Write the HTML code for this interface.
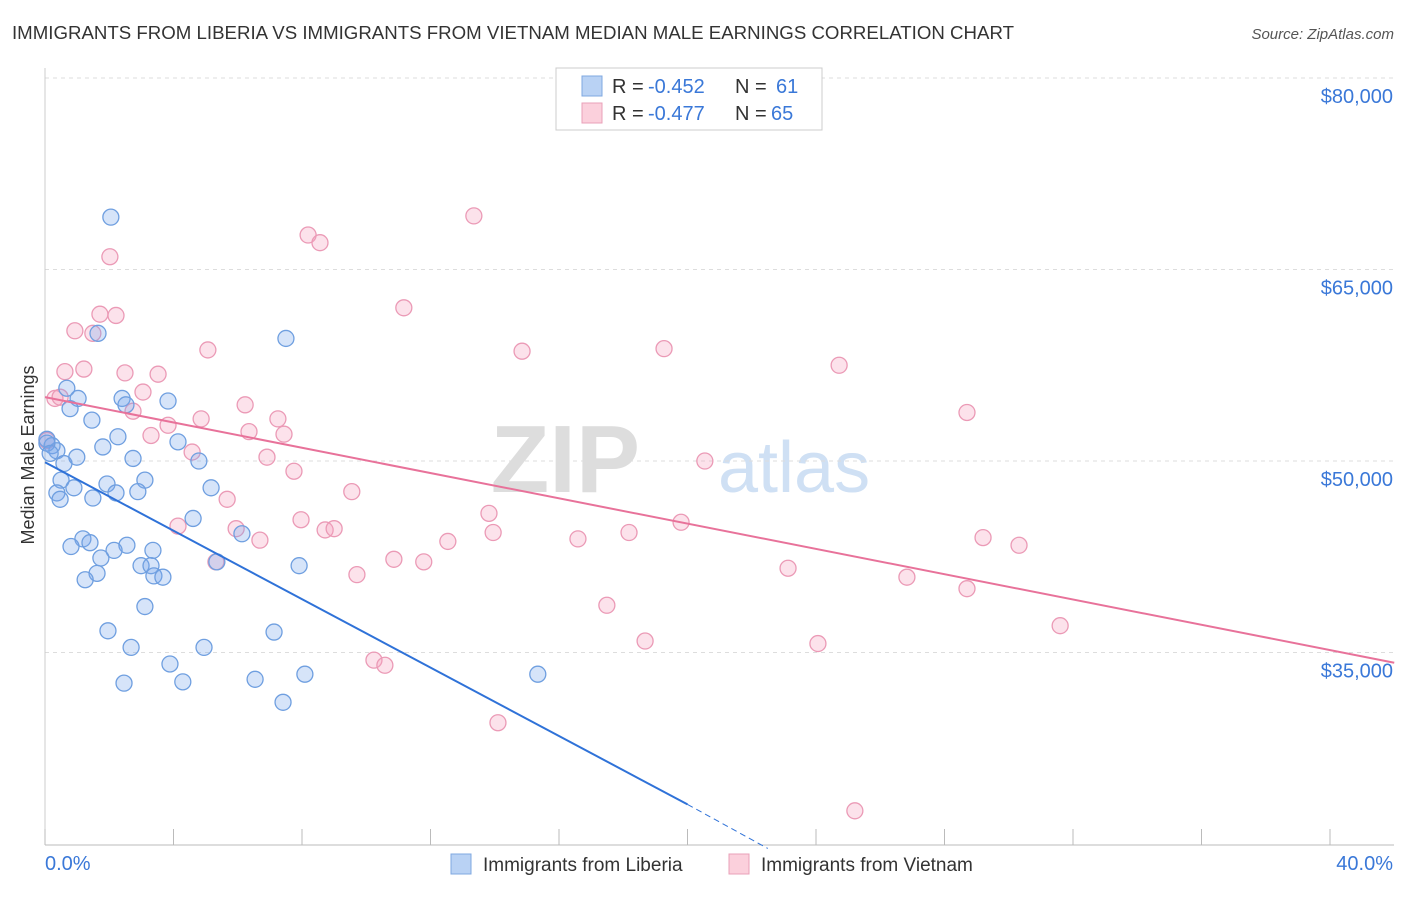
<!DOCTYPE html>
<html><head><meta charset="utf-8"><style>
body{margin:0;background:#fff;font-family:"Liberation Sans",sans-serif}
svg text{font-family:"Liberation Sans",sans-serif}
</style></head><body>
<svg width="1406" height="892" xmlns="http://www.w3.org/2000/svg">
<text x="12" y="39" font-size="18" fill="#333" textLength="1002" lengthAdjust="spacingAndGlyphs">IMMIGRANTS FROM LIBERIA VS IMMIGRANTS FROM VIETNAM MEDIAN MALE EARNINGS CORRELATION CHART</text>
<text x="1394" y="39" font-size="15" fill="#555" font-style="italic" text-anchor="end">Source: ZipAtlas.com</text>
<text x="640" y="492" font-size="96" fill="#ddd" font-weight="bold" text-anchor="end" font-family="Liberation Serif">ZIP</text>
<text x="718" y="492" font-size="72" fill="#cfe0f4">atlas</text>
<g id="grid"></g>
<g id="axes"></g>
<g id="marks"></g>
<text x="34" y="455" font-size="18" fill="#333" text-anchor="middle" transform="rotate(-90 34 455)">Median Male Earnings</text>
<g>
<rect x="556" y="68" width="266" height="62" fill="#fff" stroke="#ccc"/>
<rect x="582" y="76" width="20" height="20" fill="#b9d2f4" stroke="#7fa8e0"/>
<rect x="582" y="103" width="20" height="20" fill="#fbd0dc" stroke="#eaa0b8"/>
<text x="612" y="93" font-size="20" fill="#333">R =</text>
<text x="648" y="93" font-size="20" fill="#3a78d8">-0.452</text>
<text x="735" y="93" font-size="20" fill="#333">N =</text>
<text x="776" y="93" font-size="20" fill="#3a78d8">61</text>
<text x="612" y="120" font-size="20" fill="#333">R =</text>
<text x="648" y="120" font-size="20" fill="#3a78d8">-0.477</text>
<text x="735" y="120" font-size="20" fill="#333">N =</text>
<text x="771" y="120" font-size="20" fill="#3a78d8">65</text>
</g>
<g>
<rect x="451" y="854" width="20" height="20" fill="#b9d2f4" stroke="#7fa8e0"/>
<text x="483" y="871" font-size="19" fill="#333">Immigrants from Liberia</text>
<rect x="729" y="854" width="20" height="20" fill="#fbd0dc" stroke="#eaa0b8"/>
<text x="761" y="871" font-size="19" fill="#333">Immigrants from Vietnam</text>
</g>
</svg>
<script>
const yTicks=[35000,50000,65000,80000];
const yTickLabels=["$35,000","$50,000","$65,000","$80,000"];
const xTickLabels=["0.0%","40.0%"];
const liberiaX=[2.05,1.65,7.5,0.68,1.03,0.78,2.4,2.52,3.83,1.46,2.27,4.14,0.06,0.22,0.37,0.59,0.99,1.8,2.74,3.11,4.79,0.5,0.9,0.37,1.93,1.49,2.21,2.89,5.17,4.61,6.13,1.18,0.81,1.4,2.55,2.15,3.36,1.74,5.35,7.91,2.99,3.3,1.62,1.25,3.39,3.67,3.11,1.96,7.13,2.68,4.95,3.89,8.09,2.46,4.29,6.54,7.41,15.34,0.06,0.16,0.47];
const liberiaY=[69100,60000,59600,55700,54900,54100,54900,54400,54700,53200,51900,51500,51700,51200,50800,49800,50300,51100,50200,48500,50000,48500,47900,47500,48200,47100,47500,47600,47900,45500,44300,43900,43300,43600,43400,43000,43000,42400,42100,41800,41800,41800,41200,40700,41000,40900,38600,36700,36600,35400,35400,34100,33300,32600,32700,32900,31100,33300,51400,50600,47000];
const vietnamX=[13.35,8.19,8.56,2.02,11.17,2.21,1.71,0.93,1.49,5.07,14.85,19.27,24.72,1.21,0.62,2.49,3.52,3.05,0.31,6.23,2.74,28.7,4.86,7.25,3.83,6.35,3.3,7.44,4.58,6.91,20.54,7.75,9.55,5.67,13.82,7.97,19.8,4.14,5.95,8.72,9.0,13.95,18.18,12.54,16.59,6.69,29.2,30.32,5.32,10.86,11.79,23.13,9.71,26.83,28.7,17.49,31.6,18.68,24.06,10.24,10.58,14.1,25.21,0.06,0.47];
const vietnamY=[69200,67700,67100,66000,62000,61400,61500,60200,60000,58700,58600,58800,57500,57200,57000,56900,56800,55400,54900,54400,53900,53800,53300,53300,52800,52300,52000,52100,50700,50300,50000,49200,47600,47000,45900,45400,45200,44900,44700,44600,44700,44400,44400,43700,43900,43800,44000,43400,42100,42300,42100,41600,41100,40900,40000,38700,37100,35900,35700,34400,34000,29500,22600,51600,55000];
const X0=45,X1=1330,Y80=78,PX=191.5/15000;
const xs=v=>X0+(v/40)*(X1-X0);
const ys=v=>Y80+(80000-v)*PX;
const NS="http://www.w3.org/2000/svg";
function mk(tag,attrs,parent){const e=document.createElementNS(NS,tag);for(const k in attrs)e.setAttribute(k,attrs[k]);document.getElementById(parent).appendChild(e);return e;}
yTicks.forEach((t,i)=>{
 const g=mk('line',{x1:45,x2:1394,y1:ys(t),y2:ys(t),stroke:'#ddd','stroke-dasharray':'4,4'},'grid');
 
 
 const tx=mk('text',{x:1393,y:ys(t)+25,'font-size':20,fill:'#3a78d8','text-anchor':'end'},'axes');
 tx.textContent=yTickLabels[i];
 
 
});
const al=mk('line',{x1:45,x2:1394,y1:845,y2:845,stroke:'#bbb'},'axes');


const yl=mk('line',{x1:45,x2:45,y1:68,y2:845,stroke:'#ccc'},'axes');


for(let i=0;i<=10;i++){
 const tk=mk('line',{x1:xs(i*4),x2:xs(i*4),y1:829,y2:845,stroke:'#bbb'},'axes');
 
 
}
[[0,xTickLabels[0],'start',45],[40,xTickLabels[1],'end',1393]].forEach(a=>{
 const t=mk('text',{x:a[3],y:870,'font-size':20,fill:'#3a78d8','text-anchor':a[2]},'axes');
 t.textContent=a[1];
 
 
});
function dots(X,Y,fill,stroke,name){
 X.forEach((x,i)=>{
  const c=mk('circle',{cx:xs(x),cy:ys(Y[i]),r:8,fill:fill,stroke:stroke,'stroke-width':1.3},'marks');
  
  
 });
}
dots(vietnamX,vietnamY,'rgba(245,160,190,0.3)','#eb9ab6','vietnam-point');
dots(liberiaX,liberiaY,'rgba(120,165,235,0.3)','#6f9fe0','liberia-point');
const b1=mk('line',{x1:xs(0),y1:ys(49900),x2:xs(20),y2:ys(23100),stroke:'#2f72d8','stroke-width':2},'marks');


const b2=mk('line',{x1:xs(20),y1:ys(23100),x2:xs(22.5),y2:ys(19650),stroke:'#2f72d8','stroke-width':1,'stroke-dasharray':'6,4'},'marks');


const p1=mk('line',{x1:xs(0),y1:ys(55000),x2:xs(42),y2:ys(34200),stroke:'#e8729a','stroke-width':2},'marks');


</script>
</body></html>
